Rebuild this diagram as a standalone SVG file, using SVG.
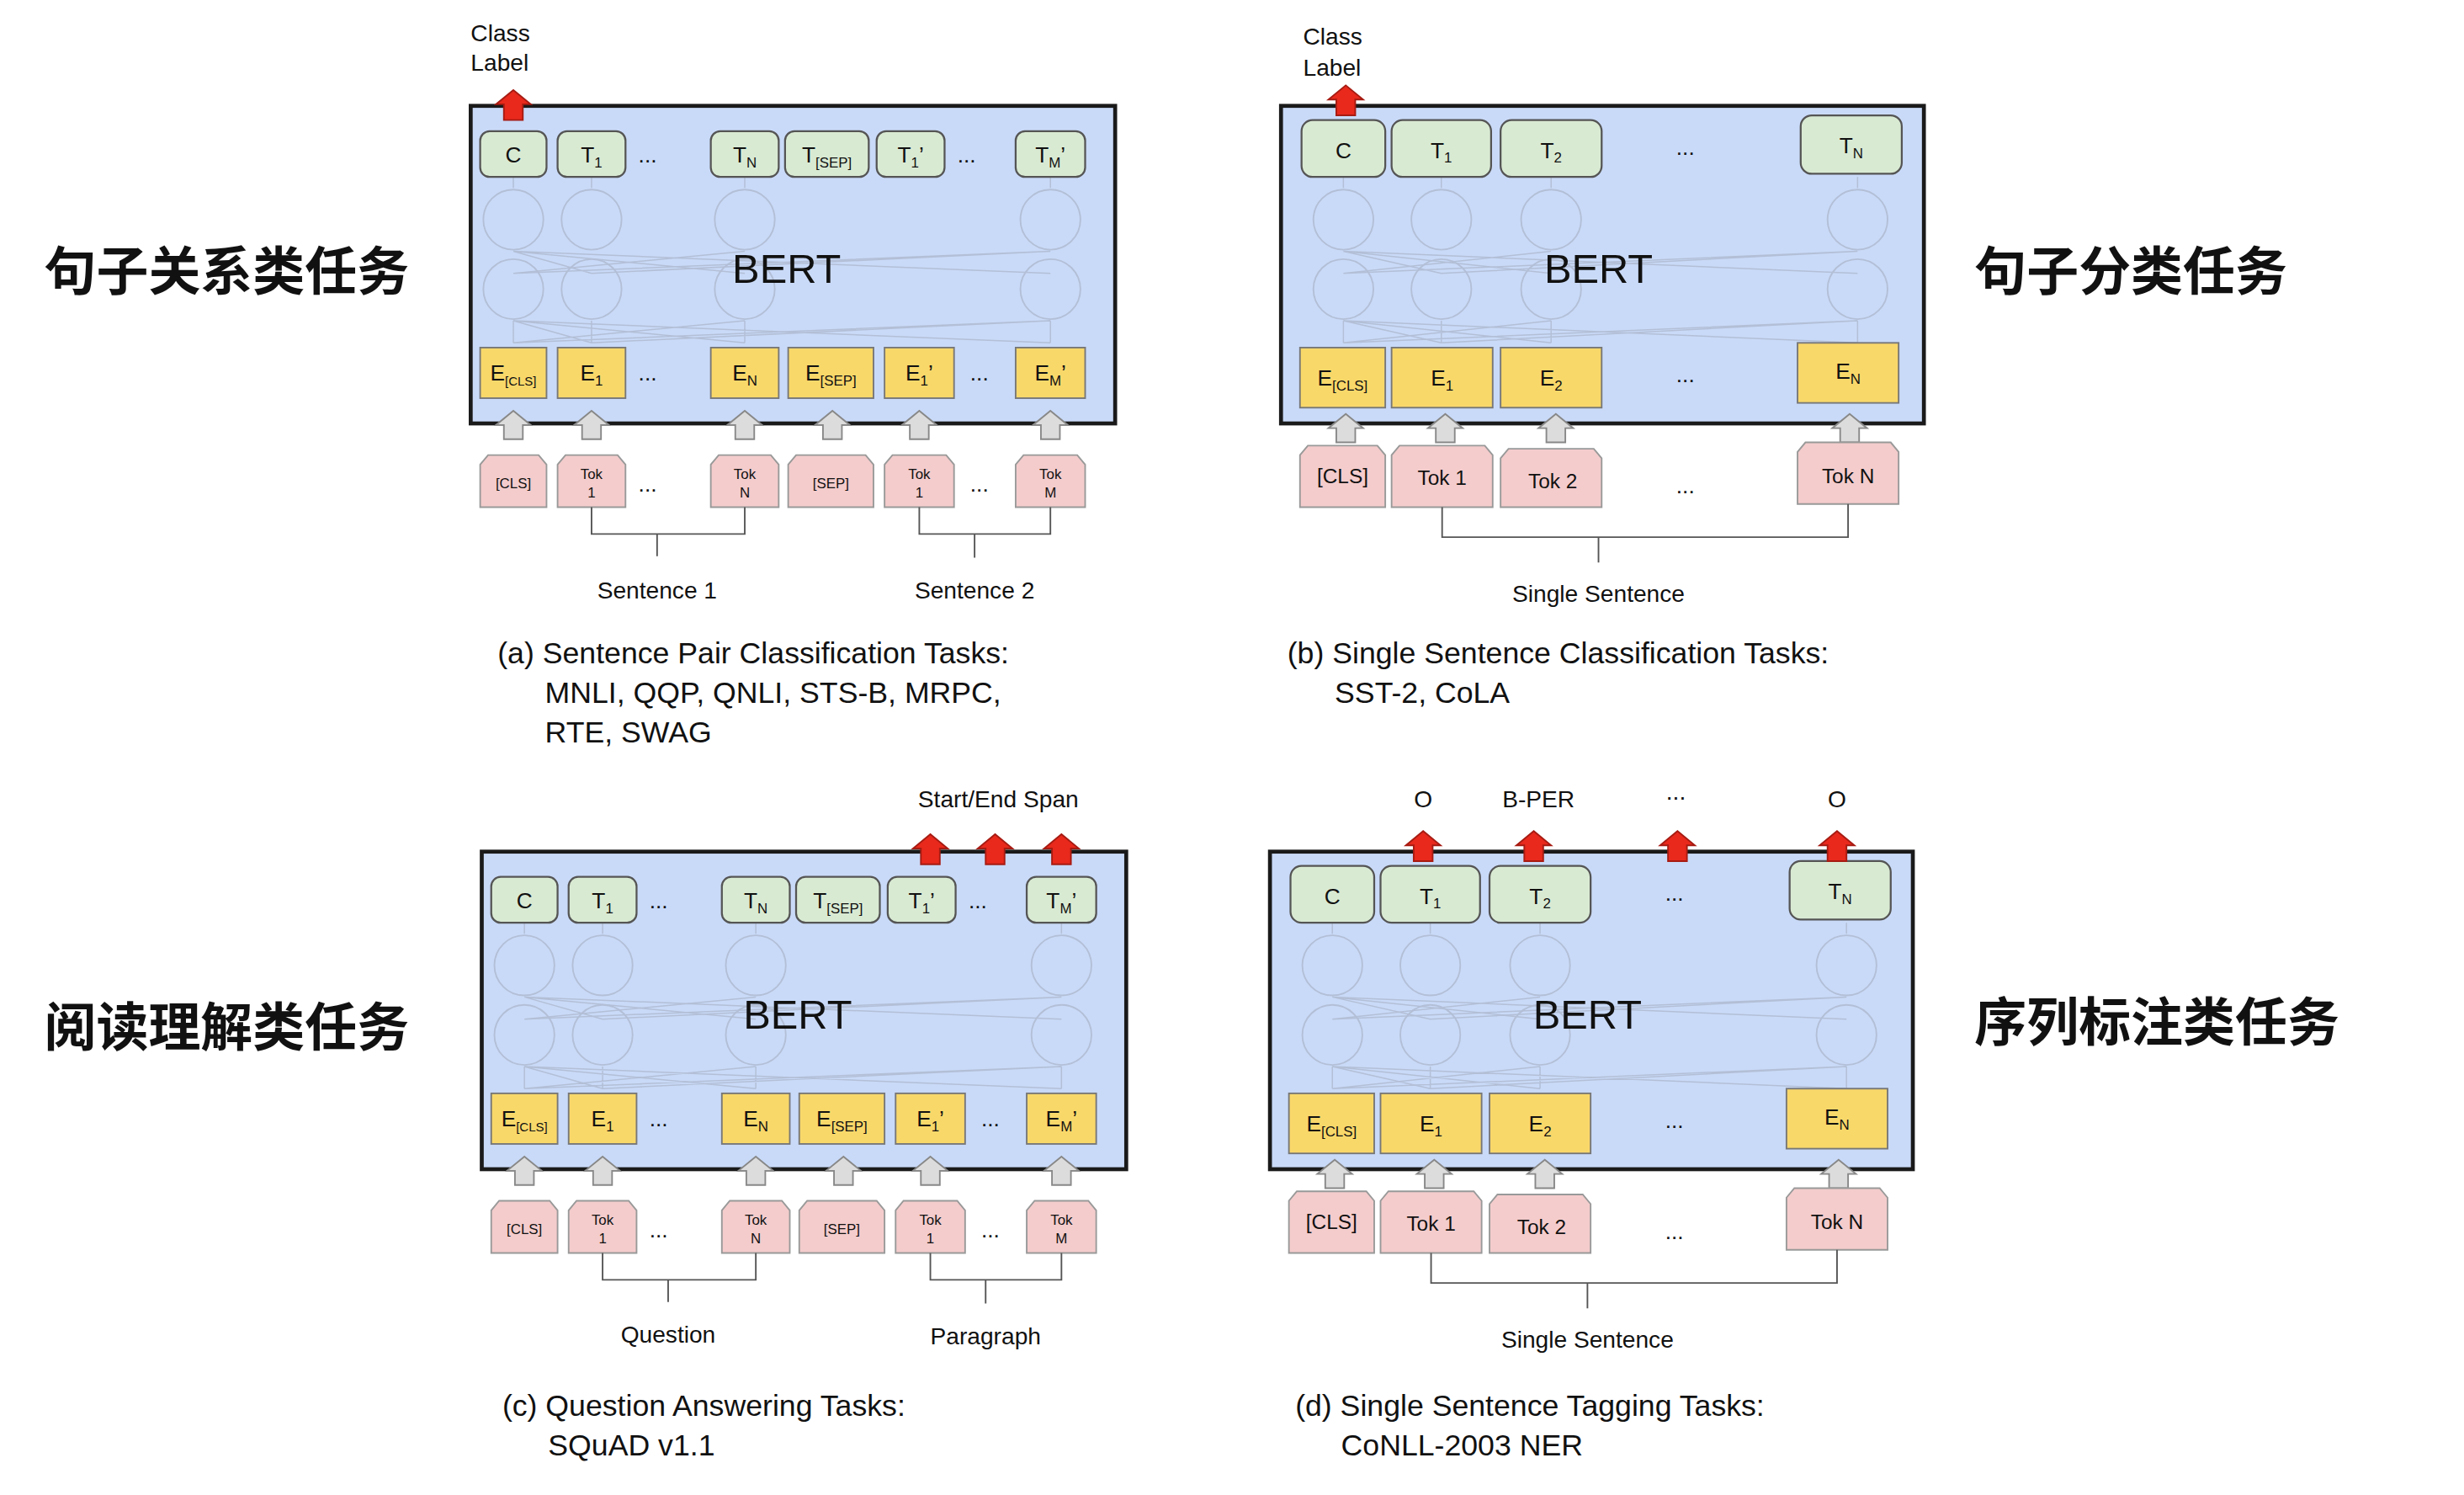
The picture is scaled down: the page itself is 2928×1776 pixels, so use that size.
<svg xmlns="http://www.w3.org/2000/svg" width="2928" height="1776" viewBox="0 0 2928 1776">
<style>
text{font-family:"Liberation Sans",Arial,sans-serif;fill:#111}
.box{fill:#c9daf8;stroke:#1a1a1a;stroke-width:2.5}
.t{fill:#d9ead3;stroke:#555;stroke-width:1.2}
.e{fill:#f9d86a;stroke:#777;stroke-width:1}
.tok{fill:#f4cccc;stroke:#999;stroke-width:1}
.ga{fill:#dcdcdc;stroke:#888;stroke-width:1}
.ra{fill:#e8291c;stroke:#a61b12;stroke-width:1}
.br{fill:none;stroke:#555;stroke-width:1}
.fc{fill:none;stroke:#b3bfd6;stroke-width:1}
.fl{stroke:#b3bfd6;stroke-width:0.8;fill:none}
.lb{font-size:14px;text-anchor:middle}
.sm{font-size:9px;text-anchor:middle}
.md{font-size:13px;text-anchor:middle}
.cap{font-size:19px}
.lab{font-size:15px;text-anchor:middle}
.bert{font-size:26px;text-anchor:middle}
.zh{font-family:"Noto Sans CJK SC",sans-serif;font-size:33px;font-weight:bold}
</style>
<defs>
<path id="gar" class="ga" d="M0,0 L11,9 L6,9 L6,18 L-6,18 L-6,9 L-11,9 Z"/>
<path id="rar" class="ra" d="M0,0 L11,9 L6,9 L6,19 L-6,19 L-6,9 L-11,9 Z"/>
<g id="innerA">
<circle class="fc" cx="27" cy="72" r="19"/><circle class="fc" cx="76.5" cy="72" r="19"/><circle class="fc" cx="173.5" cy="72" r="19"/><circle class="fc" cx="367" cy="72" r="19"/>
<circle class="fc" cx="27" cy="116" r="19"/><circle class="fc" cx="76.5" cy="116" r="19"/><circle class="fc" cx="173.5" cy="116" r="19"/><circle class="fc" cx="367" cy="116" r="19"/>
<path class="fl" d="M27,150 L173.5,136 M27,150 L367,136 M76.5,150 L27,136 M173.5,150 L27,136 M367,150 L27,136 M76.5,150 L367,136 M27,106 L173.5,92 M27,106 L367,92 M76.5,106 L27,92 M173.5,106 L27,92 M367,106 L27,92 M76.5,106 L367,92 M27,150 V136 M76.5,150 V136 M173.5,150 V136 M367,150 V136 M27,52 V45 M76.5,52 V45 M173.5,52 V45 M367,52 V45"/>
</g>
<g id="panelA">
<rect class="box" x="0" y="0" width="408" height="201"/>
<use href="#innerA"/>
<text class="bert" x="200" y="112">BERT</text>
<rect class="t" x="6" y="16" width="42" height="29" rx="6"/><text class="lb" x="27" y="36">C</text>
<rect class="t" x="55" y="16" width="43" height="29" rx="6"/><text class="lb" x="76.5" y="36">T<tspan font-size="9" dy="3">1</tspan></text>
<text class="lb" x="112" y="36">...</text>
<rect class="t" x="152" y="16" width="43" height="29" rx="6"/><text class="lb" x="173.5" y="36">T<tspan font-size="9" dy="3">N</tspan></text>
<rect class="t" x="199" y="16" width="53" height="29" rx="6"/><text class="lb" x="225.5" y="36">T<tspan font-size="9" dy="3">[SEP]</tspan></text>
<rect class="t" x="257" y="16" width="43" height="29" rx="6"/><text class="lb" x="278.5" y="36">T<tspan font-size="9" dy="3">1</tspan><tspan dy="-3">’</tspan></text>
<text class="lb" x="314" y="36">...</text>
<rect class="t" x="345" y="16" width="44" height="29" rx="6"/><text class="lb" x="367" y="36">T<tspan font-size="9" dy="3">M</tspan><tspan dy="-3">’</tspan></text>
<rect class="e" x="6" y="153" width="42" height="32"/><text class="lb" x="27" y="174">E<tspan font-size="8" dy="3">[CLS]</tspan></text>
<rect class="e" x="55" y="153" width="43" height="32"/><text class="lb" x="76.5" y="174">E<tspan font-size="9" dy="3">1</tspan></text>
<text class="lb" x="112" y="174">...</text>
<rect class="e" x="152" y="153" width="43" height="32"/><text class="lb" x="173.5" y="174">E<tspan font-size="9" dy="3">N</tspan></text>
<rect class="e" x="201" y="153" width="54" height="32"/><text class="lb" x="228" y="174">E<tspan font-size="9" dy="3">[SEP]</tspan></text>
<rect class="e" x="262" y="153" width="44" height="32"/><text class="lb" x="284" y="174">E<tspan font-size="9" dy="3">1</tspan><tspan dy="-3">’</tspan></text>
<text class="lb" x="322" y="174">...</text>
<rect class="e" x="345" y="153" width="44" height="32"/><text class="lb" x="367" y="174">E<tspan font-size="9" dy="3">M</tspan><tspan dy="-3">’</tspan></text>
<use href="#gar" x="27" y="193"/><use href="#gar" x="76.5" y="193"/><use href="#gar" x="173.5" y="193"/><use href="#gar" x="229" y="193"/><use href="#gar" x="284" y="193"/><use href="#gar" x="367" y="193"/>
<path class="tok" d="M11,221 H43 L48,227 V254 H6 V227 Z"/><text class="sm" x="27" y="242">[CLS]</text>
<path class="tok" d="M60,221 H93 L98,227 V254 H55 V227 Z"/><text class="sm" x="76.5" y="236">Tok</text><text class="sm" x="76.5" y="248">1</text>
<text class="lb" x="112" y="244">...</text>
<path class="tok" d="M157,221 H190 L195,227 V254 H152 V227 Z"/><text class="sm" x="173.5" y="236">Tok</text><text class="sm" x="173.5" y="248">N</text>
<path class="tok" d="M206,221 H250 L255,227 V254 H201 V227 Z"/><text class="sm" x="228" y="242">[SEP]</text>
<path class="tok" d="M267,221 H301 L306,227 V254 H262 V227 Z"/><text class="sm" x="284" y="236">Tok</text><text class="sm" x="284" y="248">1</text>
<text class="lb" x="322" y="244">...</text>
<path class="tok" d="M350,221 H384 L389,227 V254 H345 V227 Z"/><text class="sm" x="367" y="236">Tok</text><text class="sm" x="367" y="248">M</text>
<path class="br" d="M76.5,254 V271 H173.5 V254 M118,271 V285 M284,254 V271 H367 V254 M319,271 V286"/>
</g>
<g id="innerB">
<circle class="fc" cx="39.5" cy="72" r="19"/><circle class="fc" cx="101.5" cy="72" r="19"/><circle class="fc" cx="171" cy="72" r="19"/><circle class="fc" cx="365" cy="72" r="19"/>
<circle class="fc" cx="39.5" cy="116" r="19"/><circle class="fc" cx="101.5" cy="116" r="19"/><circle class="fc" cx="171" cy="116" r="19"/><circle class="fc" cx="365" cy="116" r="19"/>
<path class="fl" d="M39.5,150 L171,136 M39.5,150 L365,136 M101.5,150 L39.5,136 M171,150 L39.5,136 M365,150 L39.5,136 M101.5,150 L365,136 M39.5,106 L171,92 M39.5,106 L365,92 M101.5,106 L39.5,92 M171,106 L39.5,92 M365,106 L39.5,92 M101.5,106 L365,92 M39.5,150 V136 M101.5,150 V136 M171,150 V136 M365,150 V136 M39.5,52 V45 M101.5,52 V45 M171,52 V45 M365,52 V45"/>
</g>
<g id="panelB">
<rect class="box" x="0" y="0" width="407" height="201"/>
<use href="#innerB"/>
<text class="bert" x="201" y="112">BERT</text>
<rect class="t" x="13" y="9" width="53" height="36" rx="7"/><text class="lb" x="39.5" y="33">C</text>
<rect class="t" x="70" y="9" width="63" height="36" rx="7"/><text class="lb" x="101.5" y="33">T<tspan font-size="9" dy="3">1</tspan></text>
<rect class="t" x="139" y="9" width="64" height="36" rx="7"/><text class="lb" x="171" y="33">T<tspan font-size="9" dy="3">2</tspan></text>
<text class="lb" x="256" y="31">...</text>
<rect class="t" x="329" y="6" width="64" height="37" rx="7"/><text class="lb" x="361" y="30">T<tspan font-size="9" dy="3">N</tspan></text>
<rect class="e" x="12" y="153" width="54" height="38"/><text class="lb" x="39" y="177">E<tspan font-size="9" dy="3">[CLS]</tspan></text>
<rect class="e" x="70" y="153" width="64" height="38"/><text class="lb" x="102" y="177">E<tspan font-size="9" dy="3">1</tspan></text>
<rect class="e" x="139" y="153" width="64" height="38"/><text class="lb" x="171" y="177">E<tspan font-size="9" dy="3">2</tspan></text>
<text class="lb" x="256" y="175">...</text>
<rect class="e" x="327" y="150" width="64" height="38"/><text class="lb" x="359" y="173">E<tspan font-size="9" dy="3">N</tspan></text>
<use href="#gar" x="41" y="195"/><use href="#gar" x="104" y="195"/><use href="#gar" x="174" y="195"/><use href="#gar" x="360" y="195"/>
<path class="tok" d="M17,215 H61 L66,221 V254 H12 V221 Z"/><text class="md" x="39" y="239">[CLS]</text>
<path class="tok" d="M75,215 H129 L134,221 V254 H70 V221 Z"/><text class="md" x="102" y="240">Tok 1</text>
<path class="tok" d="M144,217 H198 L203,223 V254 H139 V223 Z"/><text class="md" x="172" y="242">Tok 2</text>
<text class="lb" x="256" y="245">...</text>
<path class="tok" d="M332,213 H386 L391,219 V252 H327 V219 Z"/><text class="md" x="359" y="239">Tok N</text>
<path class="br" d="M102,254 V273 H359 V252 M201,273 V289"/>
</g>
</defs>
<g transform="scale(1.877)">
<g id="labels-zh">
<text class="zh" x="28" y="184">句子关系类任务</text>
<text class="zh" x="1250" y="184">句子分类任务</text>
<text class="zh" x="28" y="662">阅读理解类任务</text>
<text class="zh" x="1250" y="659">序列标注类任务</text>
</g>
<g id="panel-a">
<use href="#panelA" x="298" y="67"/>
<use href="#rar" x="325" y="57"/>
<text font-size="15" x="298" y="26">Class</text><text font-size="15" x="298" y="45">Label</text>
<text class="lab" x="416" y="379">Sentence 1</text>
<text class="lab" x="617" y="379">Sentence 2</text>
<text class="cap" x="315" y="420">(a) Sentence Pair Classification Tasks:</text>
<text class="cap" x="345" y="445">MNLI, QQP, QNLI, STS-B, MRPC,</text>
<text class="cap" x="345" y="470">RTE, SWAG</text>
</g>
<g id="panel-b">
<use href="#panelB" x="811" y="67"/>
<use href="#rar" x="852" y="54"/>
<text font-size="15" x="825" y="28">Class</text><text font-size="15" x="825" y="48">Label</text>
<text class="lab" x="1012" y="381">Single Sentence</text>
<text class="cap" x="815" y="420">(b) Single Sentence Classification Tasks:</text>
<text class="cap" x="845" y="445">SST-2, CoLA</text>
</g>
<g id="panel-c">
<use href="#panelA" x="305" y="539"/>
<use href="#rar" x="589" y="528"/><use href="#rar" x="630" y="528"/><use href="#rar" x="672" y="528"/>
<text class="lab" x="632" y="511">Start/End Span</text>
<text class="lab" x="423" y="850">Question</text>
<text class="lab" x="624" y="851">Paragraph</text>
<text class="cap" x="318" y="896">(c) Question Answering Tasks:</text>
<text class="cap" x="347" y="921">SQuAD v1.1</text>
</g>
<g id="panel-d">
<use href="#panelB" x="804" y="539"/>
<use href="#rar" x="901" y="526"/><use href="#rar" x="971" y="526"/><use href="#rar" x="1062" y="526"/><use href="#rar" x="1163" y="526"/>
<text class="lab" x="901" y="511">O</text>
<text class="lab" x="974" y="511">B-PER</text>
<text class="lab" x="1061" y="506">...</text>
<text class="lab" x="1163" y="511">O</text>
<text class="lab" x="1005" y="853">Single Sentence</text>
<text class="cap" x="820" y="896">(d) Single Sentence Tagging Tasks:</text>
<text class="cap" x="849" y="921">CoNLL-2003 NER</text>
</g>
</g>
</svg>
